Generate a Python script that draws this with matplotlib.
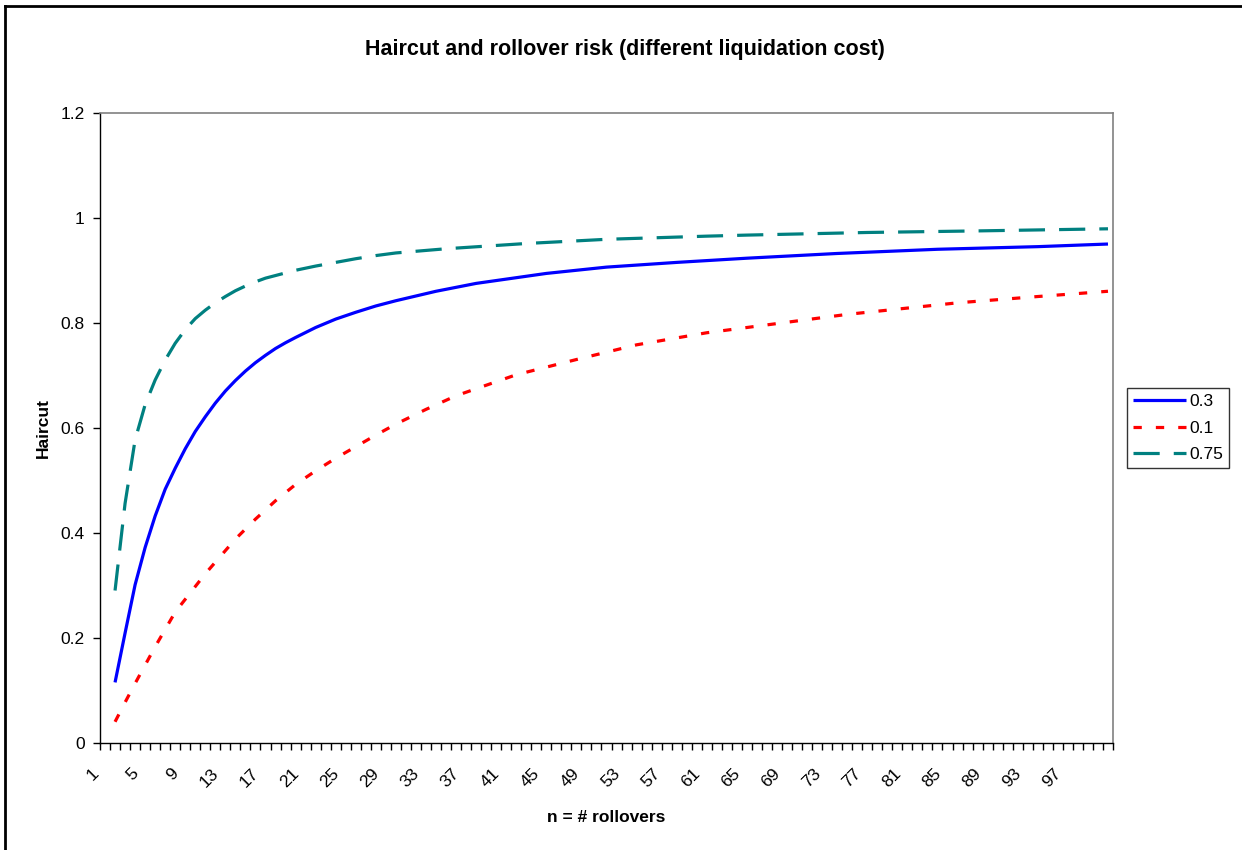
import matplotlib
matplotlib.use("Agg")
import matplotlib.pyplot as plt
from matplotlib.lines import Line2D
from matplotlib.transforms import ScaledTranslation
import numpy as np

plt.rcParams["font.family"] = ["Liberation Sans", "DejaVu Sans"]

# category axis: n = 1 .. 101, labelled every 4th category
tick_labels = [str(v) for v in range(1, 101, 4)]

# values (haircut vs number of rollovers)
n_03 = [2, 3, 4, 5, 6, 7, 8, 9, 10, 11, 12, 13, 14, 15, 16, 17, 18, 19, 20, 22, 24, 26, 28, 30,
        34, 38, 45, 51, 58, 65, 74, 84, 94, 101]
h_03 = [0.116, 0.21, 0.302, 0.373, 0.433, 0.484, 0.524, 0.561, 0.594, 0.622, 0.648, 0.671,
        0.691, 0.709, 0.725, 0.739, 0.752, 0.763, 0.773, 0.792, 0.808, 0.821, 0.833, 0.843,
        0.861, 0.876, 0.895, 0.907, 0.916, 0.924, 0.933, 0.941, 0.946, 0.951]

n_01 = [2, 3, 4, 5, 6, 8, 11, 14, 16, 18, 20, 22, 24, 26, 28, 30, 33, 36, 42, 48, 54, 61, 65,
        75, 86, 94, 101]
h_01 = [0.041, 0.078, 0.114, 0.149, 0.184, 0.25, 0.323, 0.389, 0.427, 0.462, 0.493, 0.519,
        0.543, 0.565, 0.587, 0.608, 0.636, 0.662, 0.702, 0.731, 0.759, 0.782, 0.792, 0.817,
        0.839, 0.851, 0.861]

n_075 = [2, 3, 4, 5, 6, 7, 8, 9, 10, 11, 12, 13, 14, 15, 16, 17, 18, 19, 20, 22, 24, 26, 28,
         30, 35, 43, 51, 61, 65, 77, 88, 101]
h_075 = [0.291, 0.457, 0.578, 0.645, 0.692, 0.730, 0.762, 0.788, 0.809, 0.825, 0.839, 0.851,
         0.862, 0.871, 0.879, 0.886, 0.891, 0.896, 0.901, 0.909, 0.916, 0.923, 0.929, 0.934,
         0.942, 0.952, 0.960, 0.966, 0.968, 0.973, 0.976, 0.980]

series = [
    ("0.3", n_03, h_03, "#0000FF", "-"),
    ("0.1", n_01, h_01, "#FF0000", (0, (2.6, 4.4))),
    ("0.75", n_075, h_075, "#008080", (0, (8.2, 4.4))),
]

W, H = 1242, 850
fig = plt.figure(figsize=(W / 100, H / 100), dpi=100)
ax = fig.add_axes([100 / W, 1 - 743.3 / H, 1013 / W, (743.3 - 113.3) / H])

for label, xs, ys, color, style in series:
    ax.plot(xs, ys, color=color, linestyle=style, linewidth=2.3,
            solid_capstyle="butt", dash_capstyle="butt", label=label)

ax.set_xlim(0.5, 101.5)
ax.set_ylim(0, 1.2)
ax.set_yticks(np.arange(0, 1.21, 0.2))
ax.set_yticklabels(["0", "0.2", "0.4", "0.6", "0.8", "1", "1.2"])
ax.tick_params(axis="y", direction="out", length=5, width=1, pad=6, labelsize=12.5)

# tick marks between categories, labels at category centres
ax.set_xticks(np.arange(0.5, 102, 1.0), minor=True)
ax.set_xticks([])
ax.tick_params(axis="x", which="minor", direction="out", length=5, width=1)
offset = ScaledTranslation(-9 / 100, -28 / 100, fig.dpi_scale_trans)
for lab in tick_labels:
    ax.text(int(lab), 0, lab, transform=ax.get_xaxis_transform() + offset,
            rotation=45, rotation_mode="anchor", ha="right", va="center", fontsize=12.5)

for side in ("top", "right"):
    ax.spines[side].set_color("#808080")
    ax.spines[side].set_linewidth(1.2)
for side in ("left", "bottom"):
    ax.spines[side].set_color("black")
    ax.spines[side].set_linewidth(1)

fig.text(0.503, 1 - 49 / H, "Haircut and rollover risk (different liquidation cost)",
         ha="center", va="center", fontsize=15.5, fontweight="bold")
fig.text(43 / W, 1 - 428 / H, "Haircut", rotation=90, ha="center", va="center",
         fontsize=12.5, fontweight="bold")
fig.text(606.5 / W, 1 - 817 / H, "n = # rollovers", ha="center", va="center",
         fontsize=12.5, fontweight="bold")

leg = ax.legend(loc="upper left", bbox_to_anchor=(1127 / W, 1 - 388 / H),
                bbox_transform=fig.transFigure, fontsize=12.5, frameon=True,
                fancybox=False, edgecolor="black", handlelength=3.05,
                handletextpad=0.2, labelspacing=0.65, borderpad=0.35,
                borderaxespad=0)
leg.get_frame().set_linewidth(1)

# outer chart border (left and top edges visible)
fig.add_artist(Line2D([4.5 / W, 4.5 / W], [0, 1 - 5.5 / H], transform=fig.transFigure,
                      color="black", linewidth=2))
fig.add_artist(Line2D([4.5 / W, 1], [1 - 5.5 / H, 1 - 5.5 / H], transform=fig.transFigure,
                      color="black", linewidth=2))

fig.savefig("out.png", dpi=100)
